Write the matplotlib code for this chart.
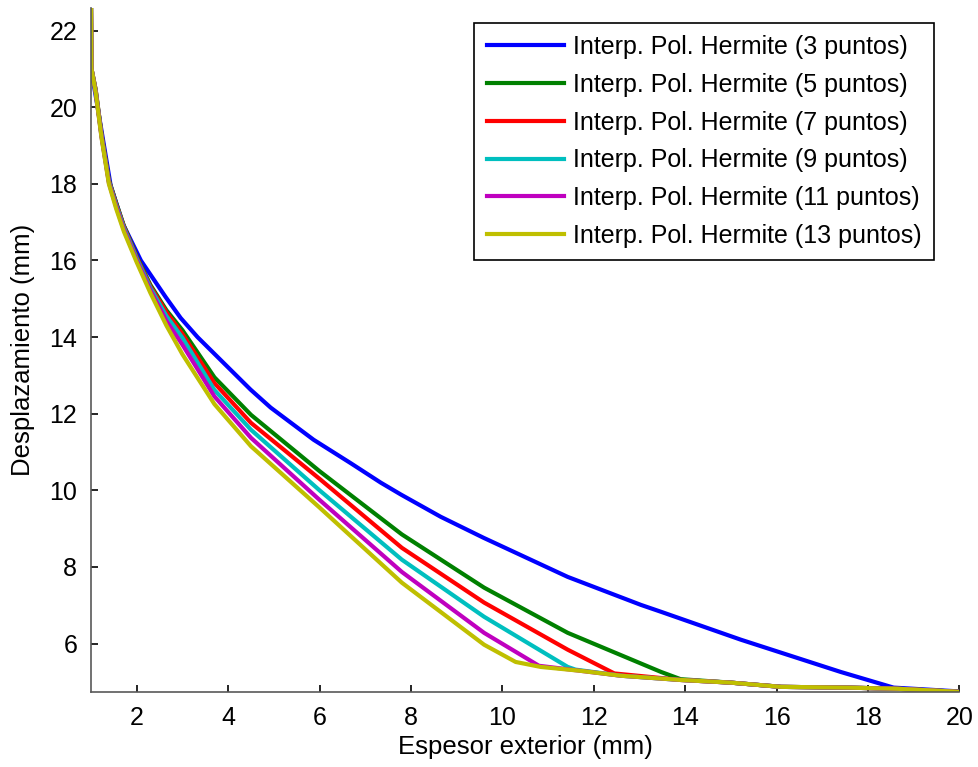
import numpy as np
import matplotlib
matplotlib.use('Agg')
import matplotlib.pyplot as plt

plt.rcParams['font.family'] = ['Liberation Sans', 'DejaVu Sans']

labels = ['Interp. Pol. Hermite (3 puntos)', 'Interp. Pol. Hermite (5 puntos)',
          'Interp. Pol. Hermite (7 puntos)', 'Interp. Pol. Hermite (9 puntos)',
          'Interp. Pol. Hermite (11 puntos)', 'Interp. Pol. Hermite (13 puntos)']
colores = [(0, 0, 1), (0, 0.5, 0), (1, 0, 0), (0, 0.75, 0.75), (0.75, 0, 0.75), (0.75, 0.75, 0)]

# tramo inicial (mismas abscisas para 5..13 puntos)
x_ini = [1.0, 1.01, 1.1, 1.23, 1.39, 1.55, 1.72, 2.0, 2.3, 2.65, 3.0, 3.7, 4.5, 6.0, 7.8, 9.6]

# 3 puntos
x3 = [1.0, 1.13, 1.43, 1.7, 2.09, 2.63, 2.96, 3.33, 4.49, 4.93, 5.87, 6.68, 7.34, 7.78, 8.65,
      9.59, 11.43, 13.03, 13.47, 15.22, 17.4, 18.56, 20.0]
y3 = [21.0, 20.1, 17.95, 16.95, 16.0, 15.05, 14.5, 14.0, 12.63, 12.16, 11.32, 10.71, 10.2, 9.89, 9.31,
      8.76, 7.74, 7.01, 6.83, 6.10, 5.26, 4.85, 4.75]

# 5 puntos
x5 = x_ini + [11.43, 13.47, 13.9, 15.0, 16.1, 17.56, 18.65, 20.0]
y5 = [22.6, 21.0, 20.47, 19.28, 18.1, 17.5, 16.9, 16.1, 15.36, 14.7, 14.18, 12.95, 11.97, 10.5, 8.85, 7.46,
      6.28, 5.26, 5.07, 4.98, 4.87, 4.85, 4.82, 4.74]

# 7 puntos
x7 = x_ini + [11.43, 12.45, 13.9, 15.0, 16.1, 17.56, 18.65, 20.0]
y7 = [22.6, 21.0, 20.46, 19.27, 18.08, 17.47, 16.88, 16.08, 15.32, 14.65, 14.08, 12.8, 11.76, 10.3, 8.5, 7.07,
      5.84, 5.22, 5.05, 4.98, 4.87, 4.85, 4.82, 4.74]

# 9 puntos
x9 = x_ini + [11.43, 11.6, 12.6, 13.9, 15.0, 16.1, 17.56, 18.65, 20.0]
y9 = [22.6, 21.0, 20.44, 19.25, 18.06, 17.44, 16.85, 16.05, 15.28, 14.55, 13.98, 12.62, 11.58, 10.0, 8.19, 6.70,
      5.39, 5.32, 5.16, 5.05, 4.98, 4.87, 4.85, 4.82, 4.74]

# 11 puntos
x11 = x_ini + [10.8, 11.7, 12.6, 13.9, 15.0, 16.1, 17.56, 18.65, 20.0]
y11 = [22.6, 21.0, 20.42, 19.22, 18.03, 17.4, 16.8, 16.0, 15.22, 14.42, 13.8, 12.45, 11.37, 9.75, 7.87, 6.28,
       5.42, 5.29, 5.16, 5.05, 4.98, 4.87, 4.85, 4.82, 4.74]

# 13 puntos
x13 = x_ini + [10.29, 10.84, 11.7, 12.6, 13.9, 15.0, 16.1, 17.56, 18.65, 20.0]
y13 = [22.6, 21.0, 20.4, 19.2, 18.0, 17.35, 16.75, 15.95, 15.15, 14.3, 13.55, 12.25, 11.15, 9.55, 7.59, 5.97,
       5.52, 5.39, 5.29, 5.16, 5.05, 4.98, 4.87, 4.85, 4.82, 4.74]

series = [(x3, y3), (x5, y5), (x7, y7), (x9, y9), (x11, y11), (x13, y13)]

fig = plt.figure(figsize=(9.79, 7.67), dpi=100)
ax = fig.add_axes([0.093, 0.098, 0.887, 0.892])

for (xs, ys), c, lab in zip(series, colores, labels):
    ax.plot(xs, ys, color=c, lw=3, label=lab)

ax.set_xlim(1, 20)
ax.set_ylim(4.74, 22.6)
ax.set_xticks(np.arange(2, 21, 2))
ax.set_yticks(np.arange(6, 23, 2))
ax.spines['top'].set_visible(False)
ax.spines['right'].set_visible(False)
for s in ['left', 'bottom']:
    ax.spines[s].set_color('0.35')
    ax.spines[s].set_linewidth(1.2)
ax.tick_params(direction='in', length=5, width=1.2, labelsize=18, pad=10, colors='black')
ax.set_xlabel('Espesor exterior (mm)', fontsize=18.5, labelpad=4)
ax.set_ylabel('Desplazamiento (mm)', fontsize=18.5, labelpad=10)

leg = ax.legend(loc='upper right', bbox_to_anchor=(0.971, 0.978), fontsize=18,
                handlelength=3.1, handletextpad=0.36, labelspacing=0.55,
                borderpad=0.5, borderaxespad=0, fancybox=False, framealpha=1)
leg.get_frame().set_edgecolor('black')
leg.get_frame().set_linewidth(1.2)

fig.savefig('out.png', dpi=100)
